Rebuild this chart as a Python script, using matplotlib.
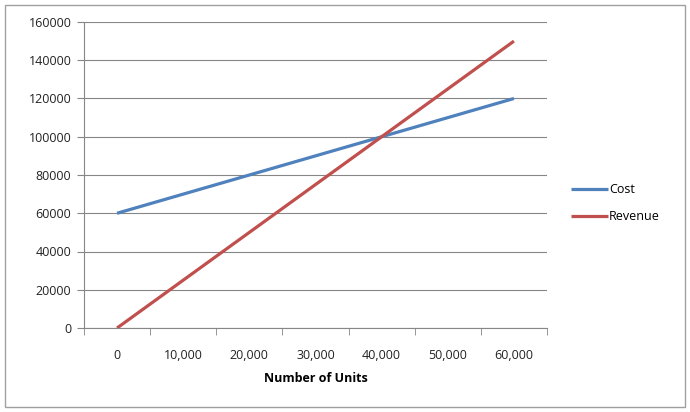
import matplotlib.pyplot as plt
from matplotlib.patches import Rectangle

# data
units = ['0', '10,000', '20,000', '30,000', '40,000', '50,000', '60,000']
cost = [60000, 70000, 80000, 90000, 100000, 110000, 120000]
revenue = [0, 25000, 50000, 75000, 100000, 125000, 150000]
yticks = [0, 20000, 40000, 60000, 80000, 100000, 120000, 140000, 160000]

plt.rcParams['font.family'] = ['Open Sans', 'DejaVu Sans']

fig = plt.figure(figsize=(6.9, 4.12), dpi=100)
ax = fig.add_axes([84/690, 1 - 328/412, 463/690, 306/412])

x = list(range(len(units)))
ax.plot(x, cost, color='#4F81BD', lw=2.3, label='Cost', solid_capstyle='butt')
ax.plot(x, revenue, color='#C0504D', lw=2.3, label='Revenue', solid_capstyle='butt')

ax.set_xlim(-0.5, len(units) - 0.5)
ax.set_ylim(0, 160000)
ax.set_yticks(yticks)
ax.set_yticklabels([str(v) for v in yticks], fontsize=9, color='#222222')
ax.set_xticks(x)
ax.set_xticklabels(units, fontsize=9, color='#222222')
ax.set_xticks([i - 0.5 for i in range(len(units) + 1)], minor=True)
ax.tick_params(axis='x', which='major', length=0, pad=15)
ax.tick_params(axis='x', which='minor', length=5, color='#868686', direction='out')
ax.tick_params(axis='y', length=5, color='#868686', pad=4)
ax.grid(axis='y', color='#868686', lw=0.8)
ax.set_axisbelow(True)
for s in ['top', 'right']:
    ax.spines[s].set_visible(False)
for s in ['left', 'bottom']:
    ax.spines[s].set_color('#868686')
ax.set_xlabel('Number of Units', fontsize=9, fontweight='bold', labelpad=7)

fig.legend(loc='center left', bbox_to_anchor=(560/690, 1 - 203/412), frameon=False,
           fontsize=9, handlelength=2.9, handletextpad=0.1, labelspacing=1.1)

fig.patches.append(Rectangle((5/690, 5/412), 680/690, 402/412, transform=fig.transFigure,
                             fill=False, edgecolor='#A0A0A0', lw=1))

fig.savefig('out.png', dpi=100)
